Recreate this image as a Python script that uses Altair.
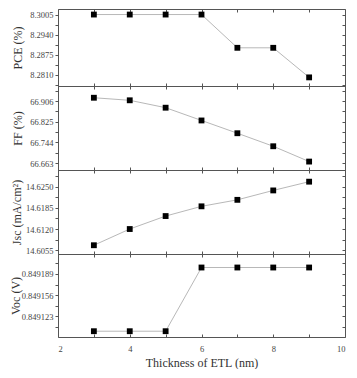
import altair as alt
import pandas as pd

# ---- data ----
thickness = [3, 4, 5, 6, 7, 8, 9]
pce = [8.3005, 8.3005, 8.3005, 8.3005, 8.2897, 8.2897, 8.2801]
ff = [66.919, 66.909, 66.880, 66.830, 66.780, 66.729, 66.669]
jsc = [14.6070, 14.6120, 14.6160, 14.6190, 14.6210, 14.6239, 14.6266]
voc = [0.849100, 0.849100, 0.849100, 0.849199, 0.849199, 0.849199, 0.849199]

pce_ticks = ["8.2810", "8.2875", "8.2940", "8.3005"]
ff_ticks = ["66.663", "66.744", "66.825", "66.906"]
jsc_ticks = ["14.6055", "14.6120", "14.6185", "14.6250"]
voc_ticks = ["0.849123", "0.849156", "0.849189"]
x_ticks = [2, 3, 4, 5, 6, 7, 8, 9, 10]

FONT = "Liberation Serif"
W = 287
LINE_COLOR = "#b8b8b8"
TICK_COLOR = "#555555"


def tick_values(major, domain):
    vals = [float(v) for v in major]
    half = (vals[1] - vals[0]) / 2.0
    out = []
    v = vals[0] - half
    while v <= domain[1] + 1e-12:
        if v >= domain[0] - 1e-12:
            out.append(v)
        v += half
    return out


def panel(values, title, domain, major, dec, height, title_x, last=False):
    df = pd.DataFrame({"t": thickness, "v": values})
    yvals = tick_values(major, domain)
    lst = ",".join("'%s'" % m for m in major)
    fmt = ".%df" % dec
    label_expr = "indexof([%s], format(datum.value, '%s')) >= 0 ? format(datum.value, '%s') : ''" % (lst, fmt, fmt)
    xscale = alt.Scale(domain=[2, 10], nice=False, zero=False)
    yscale = alt.Scale(domain=domain, nice=False, zero=False)

    if last:
        xaxis = alt.Axis(orient="bottom", values=x_ticks, offset=-3, tickSize=3, domain=False,
                         labelExpr="datum.value % 2 == 0 ? datum.label : ''",
                         labelPadding=7, title="Thickness of ETL (nm)", titlePadding=5,
                         grid=False)
    else:
        xaxis = alt.Axis(orient="bottom", values=x_ticks, offset=-3, tickSize=3, domain=False,
                         labels=False, title=None, grid=False)

    line = alt.Chart(df).mark_line(color=LINE_COLOR, strokeWidth=1).encode(
        x=alt.X("t:Q", scale=xscale, axis=xaxis),
        y=alt.Y("v:Q", scale=yscale,
                axis=alt.Axis(orient="left", values=yvals, labelExpr=label_expr, tickSize=3,
                              domain=False, grid=False, labelPadding=2, title=title,
                              titleX=title_x, titleBaseline="alphabetic")),
    )
    points = alt.Chart(df).mark_square(size=34, color="black", opacity=1).encode(
        x=alt.X("t:Q", scale=xscale,
                axis=alt.Axis(orient="top", values=x_ticks, offset=-3, tickSize=3, domain=False,
                              labels=False, title=None, grid=False)),
        y=alt.Y("v:Q", scale=yscale,
                axis=alt.Axis(orient="right", values=yvals, offset=-3, tickSize=3, domain=False,
                              labels=False, title=None, grid=False)),
    )
    return alt.layer(line, points).resolve_axis(x="independent", y="independent").properties(
        width=W, height=height)


p1 = panel(pce, "PCE (%)", [8.2773, 8.3023], pce_ticks, 4, 77, -37)
p2 = panel(ff, "FF (%)", [66.636, 66.965], ff_ticks, 3, 84, -37)
p3 = panel(jsc, "Jsc (mA/cm²)", [14.6043, 14.6302], jsc_ticks, 4, 84, -38)
p4 = panel(voc, "Voc (V)", [0.849091, 0.849220], voc_ticks, 6, 83, -39, last=True)

chart = alt.vconcat(p1, p2, p3, p4, spacing=0, bounds="flush").properties(
    padding={"left": 0, "top": 0, "right": 0, "bottom": 0}
).configure_view(
    stroke="#555555", strokeWidth=1
).configure_axis(
    labelFont=FONT, labelFontSize=8.5, labelColor="#444444",
    titleFont=FONT, titleFontSize=12, titleFontWeight="normal", titleColor="#333333",
    tickColor=TICK_COLOR, tickWidth=1,
)

chart.save("out.html", embed_options={"renderer": "svg", "actions": False})
